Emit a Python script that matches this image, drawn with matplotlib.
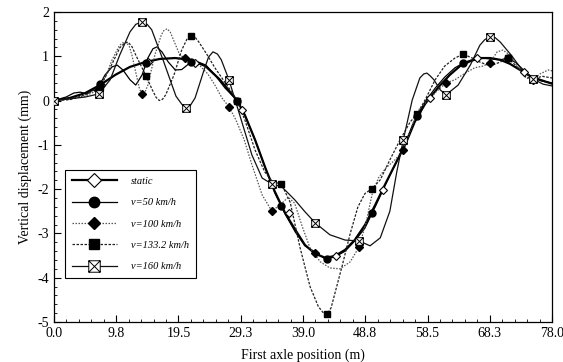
import matplotlib
matplotlib.use("Agg")
import matplotlib.pyplot as plt
from matplotlib.path import Path
from matplotlib.ticker import MultipleLocator, FixedLocator, FixedFormatter

plt.rcParams['font.family'] = ['Liberation Serif', 'DejaVu Serif']
plt.rcParams['axes.unicode_minus'] = False

# ---------------- data ----------------
static_x = [0, 2.5, 4.9, 7.2, 9.6, 11.9, 14.3, 16.6, 19.0, 21.3, 23.7, 26.0, 27.6, 28.7,
            29.9, 31.5, 33.1, 34.6, 36.2, 37.8, 39.3, 40.9, 42.5, 44.0, 45.6, 47.1, 48.7,
            50.3, 51.8, 53.4, 55.0, 56.5, 58.1, 59.2, 60.5, 62.0, 63.6, 65.2, 66.7, 68.3,
            69.9, 71.4, 73.0, 74.6, 76.1, 78.0]
static_y = [0, 0.06, 0.17, 0.35, 0.58, 0.76, 0.87, 0.94, 0.96, 0.92, 0.78, 0.47, 0.19, 0.0,
            -0.33, -0.89, -1.52, -2.06, -2.54, -2.92, -3.26, -3.46, -3.55, -3.51, -3.37, -3.15, -2.81,
            -2.36, -1.91, -1.45, -1.00, -0.48, -0.08, 0.12, 0.35, 0.58, 0.78, 0.89, 0.96, 0.96,
            0.92, 0.83, 0.69, 0.55, 0.47, 0.38]
static_mx = [0, 7.4, 14.7, 22.1, 29.4, 36.8, 44.2, 51.5, 58.9, 66.3, 73.6]
static_my = [0, 0.36, 0.88, 0.85, -0.22, -2.53, -3.51, -2.02, 0.06, 0.95, 0.64]

v50_x = [0, 1.9, 3.1, 4.1, 5.2, 6.1, 7.2, 8.0, 9.1, 9.9, 10.8, 11.9, 12.8, 13.8, 14.7,
         15.5, 16.1, 16.9, 17.9, 19.0, 20.0, 21.3, 22.6, 23.8, 25.2, 26.8, 28.7, 29.9,
         31.5, 33.1, 34.6, 36.2, 37.8, 39.3, 40.9, 42.5, 44.0, 45.6, 47.1, 48.7, 50.3,
         51.8, 53.4, 55.0, 56.5, 58.1, 59.7, 61.2, 62.8, 64.4, 65.9, 67.2, 68.3, 69.9,
         71.1, 72.4, 73.8, 75.0, 76.4, 78.0]
v50_y = [0, 0.08, 0.17, 0.19, 0.15, 0.24, 0.37, 0.58, 0.76, 0.80, 0.69, 0.47, 0.35, 0.58, 0.96,
         1.17, 1.21, 1.10, 0.87, 0.69, 0.70, 0.85, 0.87, 0.80, 0.58, 0.28, 0.0, -0.33,
         -0.89, -1.52, -2.09, -2.56, -2.97, -3.28, -3.42, -3.58, -3.53, -3.40, -3.17, -2.88, -2.40,
         -1.93, -1.45, -0.96, -0.44, -0.03, 0.28, 0.53, 0.74, 0.87, 0.94, 0.96, 0.94, 0.92,
         0.96, 0.85, 0.65, 0.51, 0.44, 0.40]
v50_mx = [0, 7.2, 14.4, 21.5, 28.7, 35.6, 42.8, 49.8, 56.9, 64.1, 71.1]
v50_my = [0, 0.37, 0.85, 0.86, 0.0, -2.38, -3.57, -2.55, -0.34, 0.85, 0.96]

v100_x = [0, 2.5, 4.9, 6.9, 8.0, 9.1, 10.2, 10.7, 11.3, 11.8, 12.2, 13.0, 13.4, 13.8, 14.2,
          14.7, 15.8, 16.8, 17.2, 17.7, 18.2, 18.6, 19.7, 20.5, 21.6, 22.9, 24.1, 25.2, 26.3,
          27.4, 28.5, 29.8, 31.0, 32.6, 34.1, 35.4, 36.7, 37.7, 38.8, 40.1, 41.7, 43.2, 44.8,
          46.4, 47.8, 48.9, 49.8, 50.8, 52.0, 53.4, 54.7, 56.1, 57.3, 58.6, 59.8, 61.4, 62.8,
          64.4, 65.9, 67.2, 68.3, 69.4, 70.3, 71.4, 72.7, 73.9, 75.0, 76.1, 77.4, 78.0]
v100_y = [0, 0.04, 0.10, 0.24, 0.51, 0.92, 1.23, 1.30, 1.32, 1.22, 1.03, 0.51, 0.26, 0.15, 0.17,
          0.35, 1.03, 1.48, 1.58, 1.62, 1.55, 1.41, 1.03, 0.96, 0.87, 0.78, 0.60, 0.35, 0.06,
          -0.14, -0.44, -0.89, -1.45, -2.13, -2.49, -2.36, -2.18, -2.32, -2.81, -3.33, -3.64, -3.78, -3.80,
          -3.64, -3.30, -2.74, -2.13, -1.75, -1.52, -1.34, -1.12, -0.55, -0.17, 0.01, 0.19, 0.40, 0.47,
          0.62, 0.74, 0.78, 0.85, 1.10, 1.14, 1.03, 0.74, 0.51, 0.47, 0.60, 0.69, 0.67]
v100_mx = [0, 6.9, 13.8, 20.5, 27.4, 34.1, 40.9, 47.8, 54.7, 61.4, 68.3, 75.0]
v100_my = [0, 0.24, 0.15, 0.96, -0.14, -2.49, -3.45, -3.30, -1.12, 0.40, 0.85, 0.47]

v133_x = [0, 2.5, 4.9, 7.2, 8.8, 10.3, 11.0, 11.6, 12.2, 12.8, 14.4, 15.4, 16.0, 16.5, 17.0,
          17.5, 18.8, 20.0, 20.8, 21.5, 22.1, 22.7, 24.0, 25.2, 26.3, 27.6, 28.7, 29.9, 31.5,
          33.0, 34.3, 35.6, 37.0, 38.5, 40.1, 41.4, 42.1, 42.8, 43.4, 44.0, 45.1, 46.4, 47.6,
          48.7, 49.8, 51.1, 52.6, 54.2, 55.8, 56.9, 58.1, 59.7, 61.2, 62.8, 64.1, 65.5, 66.7,
          68.3, 69.9, 71.1, 72.4, 73.8, 75.0, 76.4, 78.0]
v133_y = [0, 0.02, 0.13, 0.31, 0.74, 1.19, 1.29, 1.32, 1.22, 1.03, 0.56, 0.24, 0.07, 0.0, 0.03,
          0.13, 0.58, 1.14, 1.38, 1.46, 1.43, 1.32, 1.03, 0.74, 0.51, 0.24, -0.01, -0.44, -1.12,
          -1.61, -1.84, -1.88, -2.30, -3.30, -4.20, -4.65, -4.78, -4.82, -4.68, -4.35, -3.75, -3.00, -2.40,
          -2.10, -1.99, -1.79, -1.34, -0.89, -0.48, -0.30, 0.01, 0.47, 0.78, 0.96, 1.05, 0.96, 0.87,
          0.78, 0.87, 0.96, 0.78, 0.55, 0.47, 0.55, 0.51]
v133_mx = [0, 7.2, 14.4, 21.5, 28.7, 35.6, 42.8, 49.8, 56.9, 64.1, 71.1]
v133_my = [0, 0.31, 0.56, 1.46, -0.01, -1.88, -4.82, -1.99, -0.30, 1.05, 0.96]

v160_x = [0, 2.5, 4.9, 7.0, 8.8, 10.3, 11.9, 12.8, 13.8, 14.6, 15.3, 17.2, 19.1, 20.0, 20.7,
          21.4, 22.1, 23.5, 24.2, 24.9, 25.6, 26.2, 27.4, 29.1, 31.0, 32.6, 34.1, 35.7, 37.7,
          39.3, 40.9, 43.2, 45.6, 47.8, 49.5, 51.1, 52.6, 53.7, 54.7, 56.1, 57.3, 57.9, 58.4,
          58.9, 59.5, 60.5, 61.4, 63.3, 65.2, 66.7, 67.5, 68.3, 69.1, 69.9, 71.7, 73.3, 75.0,
          76.6, 78.0]
v160_y = [0, 0.04, 0.08, 0.15, 0.47, 1.03, 1.55, 1.72, 1.78, 1.72, 1.60, 0.87, 0.10, -0.08, -0.17,
          -0.10, 0.06, 0.69, 0.98, 1.10, 1.05, 0.92, 0.47, -0.33, -1.23, -1.75, -1.88, -1.95, -2.24,
          -2.51, -2.76, -3.03, -3.15, -3.17, -3.28, -3.10, -2.50, -1.60, -0.89, 0.01, 0.51, 0.60, 0.62,
          0.56, 0.47, 0.24, 0.13, 0.35, 0.80, 1.25, 1.38, 1.44, 1.42, 1.32, 1.01, 0.69, 0.49,
          0.37, 0.33]
v160_mx = [0, 7.0, 13.8, 20.7, 27.4, 34.1, 40.9, 47.8, 54.7, 61.4, 68.3, 75.0]
v160_my = [0, 0.15, 1.78, -0.17, 0.47, -1.88, -2.76, -3.17, -0.89, 0.13, 1.44, 0.49]

labels = ['static', 'v=50 km/h', 'v=100 km/h', 'v=133.2 km/h', 'v=160 km/h']
xtick_vals = [0, 9.75, 19.5, 29.25, 39.0, 48.75, 58.5, 68.25, 78.0]
xtick_labels = ['0.0', '9.8', '19.5', '29.3', '39.0', '48.8', '58.5', '68.3', '78.0']
ytick_vals = [2, 1, 0, -1, -2, -3, -4, -5]

# crossed-square marker
boxx = Path([(-1, -1), (1, -1), (1, 1), (-1, 1), (-1, -1),
             (-1, -1), (1, 1), (-1, 1), (1, -1)],
            [Path.MOVETO, Path.LINETO, Path.LINETO, Path.LINETO, Path.CLOSEPOLY,
             Path.MOVETO, Path.LINETO, Path.MOVETO, Path.LINETO])

# ---------------- figure ----------------
fig = plt.figure(figsize=(5.63, 3.62), dpi=100)
ax = fig.add_axes([0.0959, 0.1105, 0.8846, 0.8564])

series = [
    (static_x, static_y, static_mx, static_my,
     dict(color='black', lw=1.6, ls='-'),
     dict(marker='D', mfc='white', mec='black', ms=4.5, mew=0.8)),
    (v50_x, v50_y, v50_mx, v50_my,
     dict(color='black', lw=0.9, ls='-'),
     dict(marker='o', mfc='black', mec='black', ms=5)),
    (v100_x, v100_y, v100_mx, v100_my,
     dict(color='#555555', lw=0.9, ls=(0, (1.2, 1.2))),
     dict(marker='D', mfc='black', mec='black', ms=4.2)),
    (v133_x, v133_y, v133_mx, v133_my,
     dict(color='#222222', lw=0.9, ls=(0, (2.0, 1.2))),
     dict(marker='s', mfc='black', mec='black', ms=5)),
    (v160_x, v160_y, v160_mx, v160_my,
     dict(color='#111111', lw=0.9, ls='-'),
     dict(marker=boxx, mfc='white', mec='black', ms=5.5, mew=0.7)),
]

handles = []
for (x, y, mx, my, lstyle, mstyle), lab in zip(series, labels):
    ax.plot(x, y, zorder=2, **lstyle)
    ax.plot(mx, my, ls='none', zorder=3, **mstyle)
    h, = ax.plot([], [], label=lab, **lstyle, **mstyle)
    handles.append(h)

ax.set_xlim(0, 78)
ax.set_ylim(-5, 2)
ax.xaxis.set_major_locator(FixedLocator(xtick_vals))
ax.xaxis.set_major_formatter(FixedFormatter(xtick_labels))
ax.xaxis.set_minor_locator(MultipleLocator(1.95))
ax.yaxis.set_major_locator(FixedLocator(ytick_vals))
ax.yaxis.set_minor_locator(MultipleLocator(0.2))
ax.tick_params(which='both', direction='in', top=False, right=False, labelsize=10)
ax.tick_params(which='major', length=5, width=0.8)
ax.tick_params(which='minor', length=2.5, width=0.6)
for s in ax.spines.values():
    s.set_linewidth(0.9)

ax.set_xlabel('First axle position (m)', fontsize=10, labelpad=6)
ax.set_ylabel('Vertical displacement (mm)', fontsize=10, labelpad=4)

leg = ax.legend(handles=handles, loc='lower left', bbox_to_anchor=(0.022, 0.142),
                borderaxespad=0, fancybox=False, edgecolor='black', framealpha=1,
                prop={'style': 'italic', 'size': 7.5}, handlelength=4.3,
                markerscale=1.5, borderpad=0.65, labelspacing=1.15, handletextpad=1.4)
leg.get_frame().set_linewidth(0.8)

fig.savefig('out.png', dpi=100)
